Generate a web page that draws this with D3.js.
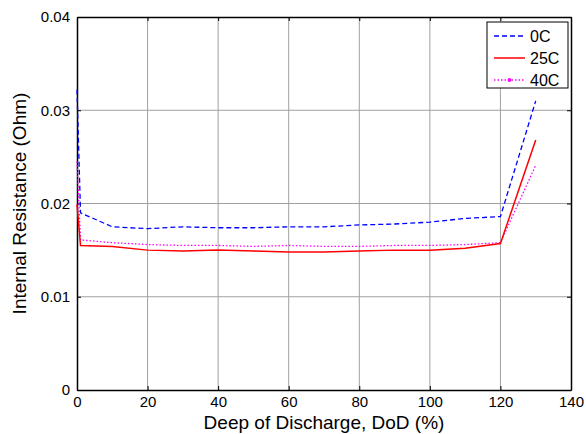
<!DOCTYPE html>
<html>
<head>
<meta charset="utf-8">
<script src="https://cdn.jsdelivr.net/npm/d3@7"></script>
<style>
  body { margin: 0; background: #fff; }
  text { font-family: "Liberation Sans", Arial, sans-serif; }
</style>
</head>
<body>
<div id="chart"></div>
<script>
// data
var dod = [0, 1, 10, 20, 30, 40, 50, 60, 70, 80, 90, 100, 110, 120, 130];
var r0C  = [0.0322, 0.0190, 0.0175, 0.0173, 0.0175, 0.0174, 0.0174, 0.0175, 0.0175, 0.0177, 0.0178, 0.0180, 0.0184, 0.0186, 0.0310];
var r25C = [0.0199, 0.0155, 0.0154, 0.0150, 0.0149, 0.0150, 0.0149, 0.0148, 0.0148, 0.0149, 0.0150, 0.0150, 0.0152, 0.0157, 0.0268];
var r40C = [0.0245, 0.0161, 0.0158, 0.0156, 0.0155, 0.0155, 0.0154, 0.0155, 0.0154, 0.0154, 0.0155, 0.0155, 0.0156, 0.0158, 0.0241];
var xTicks = [0, 20, 40, 60, 80, 100, 120, 140];
var yTicks = [0, 0.01, 0.02, 0.03, 0.04];
var names = ["0C", "25C", "40C"];

(function(){
  var width = 586, height = 434;
  var mLeft = 77, mRight = 571, mTop = 17, mBottom = 390;

  var svg = d3.select("#chart").append("svg")
    .attr("width", width).attr("height", height);

  var x = d3.scaleLinear().domain([0, 140]).range([mLeft, mRight]);
  var y = d3.scaleLinear().domain([0, 0.04]).range([mBottom, mTop]);

  // grid
  svg.append("g").selectAll("line").data(xTicks.slice(1, -1)).enter().append("line")
    .attr("x1", function(d){ return x(d); }).attr("x2", function(d){ return x(d); })
    .attr("y1", mTop).attr("y2", mBottom)
    .attr("stroke", "#a0a0a0").attr("stroke-width", 1);
  svg.append("g").selectAll("line").data(yTicks.slice(1, -1)).enter().append("line")
    .attr("y1", function(d){ return y(d); }).attr("y2", function(d){ return y(d); })
    .attr("x1", mLeft).attr("x2", mRight)
    .attr("stroke", "#a0a0a0").attr("stroke-width", 1);

  // axes, ticks pointing inward
  var xAxis = svg.append("g").attr("transform", "translate(0," + mBottom + ")")
    .call(d3.axisBottom(x).tickValues(xTicks).tickFormat(d3.format("d")).tickSizeInner(-4).tickSizeOuter(0).tickPadding(6));
  var xTop = svg.append("g").attr("transform", "translate(0," + mTop + ")")
    .call(d3.axisTop(x).tickValues(xTicks).tickFormat("").tickSizeInner(-4).tickSizeOuter(0));
  var yAxis = svg.append("g").attr("transform", "translate(" + mLeft + ",0)")
    .call(d3.axisLeft(y).tickValues(yTicks).tickFormat(function(d){ return d === 0 ? "0" : d3.format(".2f")(d); }).tickSizeInner(-4).tickSizeOuter(0).tickPadding(7));
  var yRight = svg.append("g").attr("transform", "translate(" + mRight + ",0)")
    .call(d3.axisRight(y).tickValues(yTicks).tickFormat("").tickSizeInner(-4).tickSizeOuter(0));

  [xAxis, xTop, yAxis, yRight].forEach(function(g){
    g.select(".domain").attr("stroke", "#000").attr("stroke-width", 1.5);
    g.selectAll(".tick line").attr("stroke", "#000");
    g.selectAll(".tick text").attr("fill", "#000").style("font-size", "15px")
      .style("font-family", "'Liberation Sans', Arial, sans-serif");
  });

  // series
  var line = d3.line()
    .x(function(d){ return x(d[0]); })
    .y(function(d){ return y(d[1]); });

  function pts(vals) { return dod.map(function(v, i){ return [v, vals[i]]; }); }

  svg.append("path").datum(pts(r0C))
    .attr("fill", "none").attr("stroke", "#0000ff").attr("stroke-width", 1.3)
    .attr("stroke-dasharray", "5,3").attr("d", line);
  svg.append("path").datum(pts(r40C))
    .attr("fill", "none").attr("stroke", "#ff00ff").attr("stroke-width", 1.3)
    .attr("stroke-dasharray", "1.5,2").attr("d", line);
  svg.append("path").datum(pts(r25C))
    .attr("fill", "none").attr("stroke", "#ff0000").attr("stroke-width", 1.5)
    .attr("d", line);

  // legend
  var lg = svg.append("g").attr("transform", "translate(487,22)");
  lg.append("rect").attr("width", 81).attr("height", 66)
    .attr("fill", "#fff").attr("stroke", "#000").attr("stroke-width", 1);
  var styles = [
    { c: "#0000ff", dash: "5,3", w: 1.3 },
    { c: "#ff0000", dash: null, w: 1.5 },
    { c: "#ff00ff", dash: "1.5,2", w: 1.3 }
  ];
  names.forEach(function(n, i){
    var yy = 14 + i * 22;
    lg.append("line").attr("x1", 7).attr("x2", 38).attr("y1", yy).attr("y2", yy)
      .attr("stroke", styles[i].c).attr("stroke-width", styles[i].w)
      .attr("stroke-dasharray", styles[i].dash);
    if (i === 2) {
      lg.append("circle").attr("cx", 22.5).attr("cy", yy).attr("r", 2).attr("fill", styles[i].c);
    }
    lg.append("text").attr("x", 43).attr("y", yy + 6).style("font-size", "16px").text(n);
  });

  // axis titles
  svg.append("text").attr("x", (mLeft + mRight) / 2).attr("y", 429)
    .attr("text-anchor", "middle").style("font-size", "19px")
    .text("Deep of Discharge, DoD (%)");
  svg.append("text")
    .attr("transform", "translate(26," + ((mTop + mBottom) / 2) + ") rotate(-90)")
    .attr("text-anchor", "middle").style("font-size", "19px")
    .text("Internal Resistance (Ohm)");
})();
</script>
</body>
</html>
